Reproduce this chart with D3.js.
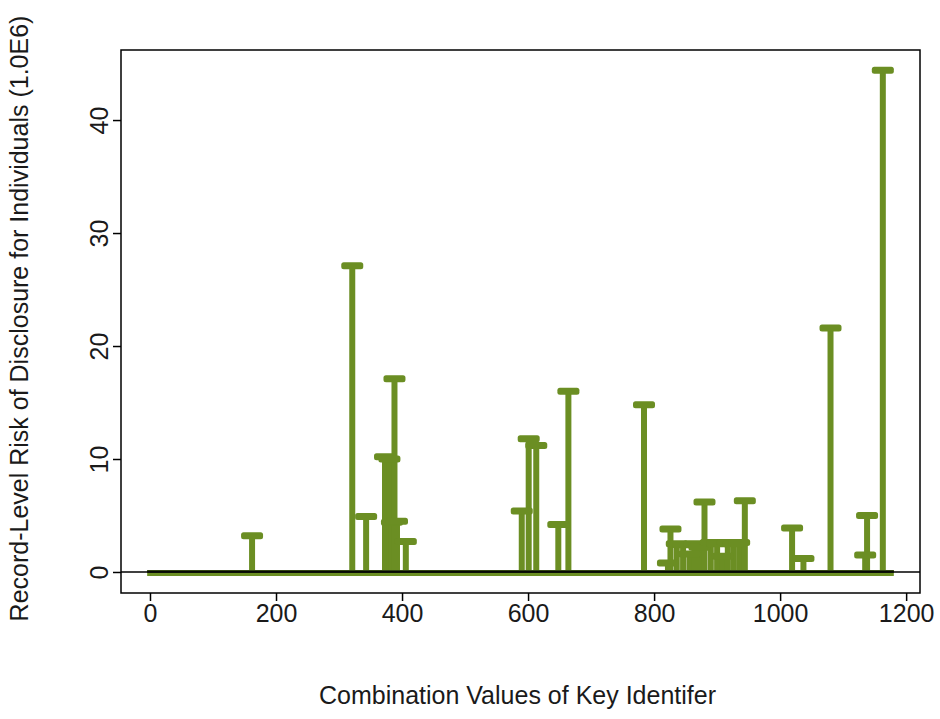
<!DOCTYPE html>
<html>
<head>
<meta charset="utf-8">
<script src="https://cdn.jsdelivr.net/npm/d3@7"></script>
<style>
  html, body { margin: 0; padding: 0; background: #fff; }
  svg { display: block; font-family: "Liberation Sans", Arial, sans-serif; }
</style>
</head>
<body>
<svg id="chart" width="940" height="719"></svg>
<script>
// Key identifier combinations that carry a non-zero record-level risk
const keyIds = [
  162, 321, 343, 373, 380, 384, 388, 392, 406,
  590, 601, 613, 648, 664, 784,
  822, 826, 836, 846, 856, 864, 872, 880, 890, 900, 909, 917, 926, 935, 944,
  1019, 1037, 1080, 1135, 1138, 1163
];
// Risk of disclosure for those combinations (x 1.0E6)
const riskValues = [
  3.2, 27.1, 4.9, 10.2, 10.0, 4.4, 17.1, 4.5, 2.7,
  5.4, 11.8, 11.2, 4.2, 16.0, 14.8,
  0.8, 3.8, 2.5, 2.4, 1.6, 2.5, 2.2, 6.2, 2.6, 2.5, 1.4, 2.6, 2.5, 2.6, 6.3,
  3.9, 1.2, 21.6, 1.5, 5.0, 44.4
];
// First and last key combination; every other key in between has zero risk
const zeroRiskSpan = [13, 1163];

const xTickValues = [0, 200, 400, 600, 800, 1000, 1200];
const yTickValues = [0, 10, 20, 30, 40];
const xLimits = [-46, 1222];
const yLimits = [-1.86, 46.2];
const xTitle = "Combination Values of Key Identifer";
const yTitle = "Record-Level Risk of Disclosure for Individuals (1.0E6)";

const plot = { left: 121, right: 920, top: 50, bottom: 593 };
const stemColor = "#6b8e23";
const textColor = "#1a1a1a";
const capW = 22, capH = 7, stemW = 6;
const fontSize = 25;
const tickLen = 8;

const svg = d3.select("#chart");
const x = d3.scaleLinear().domain(xLimits).range([plot.left, plot.right]);
const y = d3.scaleLinear().domain(yLimits).range([plot.bottom, plot.top]);

const records = keyIds.map((k, i) => ({ key: k, risk: riskValues[i] }));

// zero-risk records: their caps merge into one band along the baseline
svg.append("line")
  .attr("x1", x(zeroRiskSpan[0]) - capW / 2)
  .attr("x2", x(zeroRiskSpan[1]) + capW / 2)
  .attr("y1", y(0) + 1).attr("y2", y(0) + 1)
  .attr("stroke", stemColor)
  .attr("stroke-width", capH - 1);

// stems
svg.append("g").selectAll("line").data(records).join("line")
  .attr("x1", d => x(d.key)).attr("x2", d => x(d.key))
  .attr("y1", y(0)).attr("y2", d => y(d.risk))
  .attr("stroke", stemColor)
  .attr("stroke-width", stemW);

// caps
svg.append("g").selectAll("rect").data(records).join("rect")
  .attr("x", d => x(d.key) - capW / 2)
  .attr("y", d => y(d.risk) - capH / 2)
  .attr("width", capW).attr("height", capH)
  .attr("rx", 2.5)
  .attr("fill", stemColor);

// darker trace where the zero-risk records sit on the reference line
svg.append("line")
  .attr("x1", x(zeroRiskSpan[0]) - capW / 2)
  .attr("x2", x(zeroRiskSpan[1]) + capW / 2)
  .attr("y1", y(0) - 0.5).attr("y2", y(0) - 0.5)
  .attr("stroke", "#1f2a10").attr("stroke-width", 2.5);

// horizontal reference line at zero
svg.append("line")
  .attr("x1", plot.left).attr("x2", plot.right)
  .attr("y1", y(0)).attr("y2", y(0))
  .attr("stroke", "#000").attr("stroke-width", 1.5);

// plot frame
svg.append("rect")
  .attr("x", plot.left).attr("y", plot.top)
  .attr("width", plot.right - plot.left)
  .attr("height", plot.bottom - plot.top)
  .attr("fill", "none").attr("stroke", "#000").attr("stroke-width", 1.5);

// x axis
const gx = svg.append("g")
  .attr("transform", `translate(0,${plot.bottom})`)
  .call(d3.axisBottom(x).tickValues(xTickValues).tickSize(tickLen).tickFormat(d3.format("d")));
gx.select(".domain").remove();
gx.attr("font-family", null).attr("font-size", fontSize);
gx.selectAll(".tick line").attr("stroke", "#000").attr("stroke-width", 1.5);
gx.selectAll(".tick text")
  .attr("fill", textColor)
  .attr("y", 20).attr("dy", "0.35em");

// y axis with labels running along the axis
const gy = svg.append("g")
  .attr("transform", `translate(${plot.left},0)`)
  .call(d3.axisLeft(y).tickValues(yTickValues).tickSize(tickLen).tickFormat(d3.format("d")));
gy.select(".domain").remove();
gy.attr("font-family", null).attr("font-size", fontSize);
gy.selectAll(".tick line").attr("stroke", "#000").attr("stroke-width", 1.5);
gy.selectAll(".tick text")
  .attr("fill", textColor)
  .attr("x", null).attr("y", null)
  .attr("dy", "0.35em")
  .attr("text-anchor", "middle")
  .attr("transform", `translate(${99 - plot.left},0) rotate(-90)`);

// axis titles
svg.append("text")
  .attr("x", (plot.left + plot.right) / 2 - 3)
  .attr("y", 704)
  .attr("text-anchor", "middle")
  .attr("font-size", fontSize)
  .attr("fill", textColor)
  .text(xTitle);

svg.append("text")
  .attr("transform", `translate(28,${(plot.top + plot.bottom) / 2 - 3}) rotate(-90)`)
  .attr("text-anchor", "middle")
  .attr("font-size", fontSize)
  .attr("fill", textColor)
  .text(yTitle);
</script>
</body>
</html>
